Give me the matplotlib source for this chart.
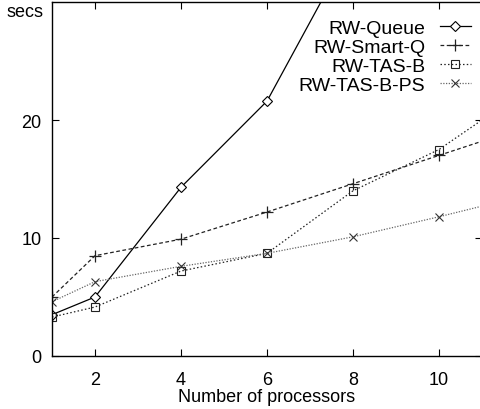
import matplotlib
matplotlib.use("Agg")
import matplotlib.pyplot as plt

plt.rcParams['font.family'] = ['Liberation Sans', 'DejaVu Sans']

procs = [1, 2, 4, 6, 8, 10, 12]
queue_x = [1, 2, 4, 6, 8]
queue = [3.5, 5.0, 14.3, 21.6, 35.0]
smartq = [5.0, 8.5, 9.9, 12.2, 14.6, 17.0, 19.4]
tasb = [3.3, 4.15, 7.2, 8.7, 14.0, 17.5, 22.5]
tasbps = [4.6, 6.3, 7.6, 8.7, 10.1, 11.8, 13.6]
xticks = [2, 4, 6, 8, 10]
yticks = [0, 10, 20]

fig = plt.figure(figsize=(4.81, 4.10), dpi=100)
ax = fig.add_axes([52/481, 53/410, 430/481, 354/410])

ax.plot(queue_x, queue, color='black', lw=0.9, ls='-', marker='D', ms=5,
        mfc='white', mec='black', mew=0.8, label='RW-Queue')
ax.plot(procs, smartq, color='#222222', lw=0.9, ls=(0, (3, 2)), marker='+', ms=8,
        mew=0.9, label='RW-Smart-Q')
ax.plot(procs, tasb, color='#222222', lw=0.9, ls=(0, (1.2, 1.8)), marker='s', ms=6,
        mfc='none', mec='#222222', mew=0.8, label='RW-TAS-B')
ax.plot(procs, tasbps, color='#666666', lw=0.9, ls=(0, (1, 1.2)), marker='x', ms=6,
        mec='#333333', mew=0.8, label='RW-TAS-B-PS')

ax.set_xlim(1, 11)
ax.set_ylim(0, 30)
ax.set_xticks(xticks)
ax.set_yticks(yticks)
ax.tick_params(direction='in', top=True, right=True, length=5, width=0.8,
               labelsize=13)
ax.tick_params(axis='x', pad=11)
ax.tick_params(axis='y', pad=7.5)
for s in ax.spines.values():
    s.set_linewidth(1.0)
ax.spines['right'].set_visible(False)
ax.set_xlabel('Number of processors', fontsize=13, labelpad=0)
ax.text(-0.02, 29.2, 'secs', fontsize=13, ha='right', va='center',
        transform=ax.get_yaxis_transform())

leg = ax.legend(loc='upper right', bbox_to_anchor=(471/481, 1 - 20/410),
                bbox_transform=fig.transFigure, frameon=False, markerfirst=False,
                fontsize=14, handlelength=1.6, handletextpad=0.75,
                labelspacing=0.07, borderpad=0, borderaxespad=0)
for t in leg.get_texts():
    t.set_ha('right')

fig.savefig('out.png', dpi=100)
